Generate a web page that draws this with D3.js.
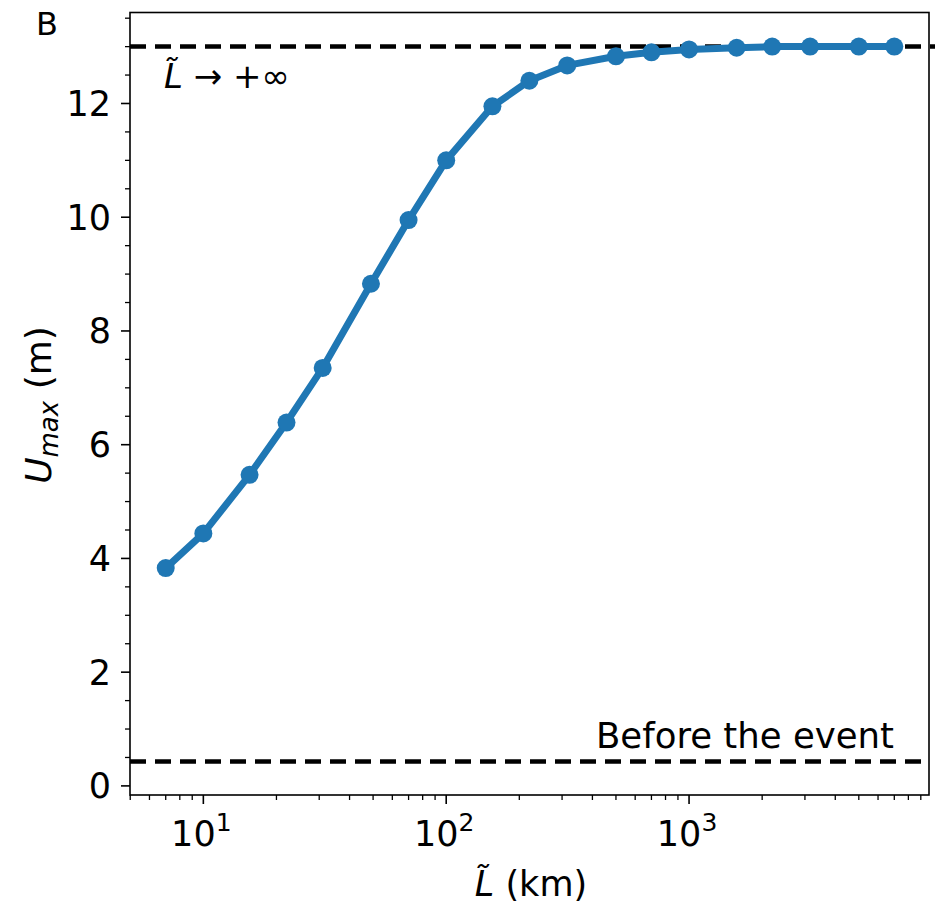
<!DOCTYPE html>
<html>
<head>
<meta charset="utf-8">
<script src="https://cdn.jsdelivr.net/npm/d3@7"></script>
<style>
  body { margin: 0; background: #fff; }
  text { font-family: "DejaVu Sans", sans-serif; fill: #000; }
</style>
</head>
<body>
<svg id="chart" width="935" height="907"></svg>
<script>
// length scale L~ (km) and maximum displacement U_max (m)
var lengthKm = [7, 10, 15.5, 22, 31, 49, 70, 100, 155, 220, 315, 500, 700, 1000, 1570, 2200, 3150, 5000, 7000];
var uMax = [3.83, 4.44, 5.47, 6.39, 7.35, 8.83, 9.95, 11.0, 11.95, 12.40, 12.67, 12.83, 12.90, 12.95, 12.98, 13.0, 13.0, 13.0, 13.0];
var infiniteLevel = 13.0;
var beforeLevel = 0.43;
var yTicks = [0, 2, 4, 6, 8, 10, 12];
var xTicks = [10, 100, 1000];
var xTickExp = ["1", "2", "3"];

var svg = d3.select("#chart");
var margin = { top: 12.5, right: 6, bottom: 112, left: 130 };
var width = 935, height = 907;

var x = d3.scaleLog()
	.domain([Math.pow(10, 0.698), Math.pow(10, 3.988)])
	.range([margin.left, width - margin.right]);
var y = d3.scaleLinear()
	.domain([-0.16, 13.6])
	.range([height - margin.bottom, margin.top]);

// minor ticks
var xMinor = [];
[1, 10, 100, 1000].forEach(dec => {
	for (var k = 2; k <= 9; k++) {
		var v = dec * k;
		if (v >= x.domain()[0] && v <= x.domain()[1]) xMinor.push(v);
	}
});
var yMinor = d3.range(0, 13.6, 0.5).filter(v => v % 2 !== 0);

var g = svg.append("g");

g.selectAll(".xminor").data(xMinor).enter().append("line")
	.attr("x1", d => x(d)).attr("x2", d => x(d))
	.attr("y1", y.range()[0]).attr("y2", y.range()[0] + 5)
	.attr("stroke", "#000").attr("stroke-width", 1.3);
g.selectAll(".xmajor").data(xTicks).enter().append("line")
	.attr("x1", d => x(d)).attr("x2", d => x(d))
	.attr("y1", y.range()[0]).attr("y2", y.range()[0] + 9)
	.attr("stroke", "#000").attr("stroke-width", 1.6);
g.selectAll(".yminor").data(yMinor).enter().append("line")
	.attr("x1", margin.left - 5).attr("x2", margin.left)
	.attr("y1", d => y(d)).attr("y2", d => y(d))
	.attr("stroke", "#000").attr("stroke-width", 1.3);
g.selectAll(".ymajor").data(yTicks).enter().append("line")
	.attr("x1", margin.left - 9).attr("x2", margin.left)
	.attr("y1", d => y(d)).attr("y2", d => y(d))
	.attr("stroke", "#000").attr("stroke-width", 1.6);

// tick labels
g.selectAll(".ylab").data(yTicks).enter().append("text")
	.attr("x", margin.left - 19)
	.attr("y", d => y(d) + 12.5)
	.attr("text-anchor", "end")
	.attr("font-size", "35px")
	.text(d => d);

var xl = g.selectAll(".xlab").data(xTicks).enter().append("text")
	.attr("x", d => x(d) - 2)
	.attr("y", 846)
	.attr("text-anchor", "middle")
	.attr("font-size", "35px");
xl.append("tspan").text("10");
xl.append("tspan").attr("dy", -15).attr("font-size", "25px").text((d, i) => xTickExp[i]);

// reference lines
g.append("line")
	.attr("x1", margin.left).attr("x2", width)
	.attr("y1", y(infiniteLevel)).attr("y2", y(infiniteLevel))
	.attr("stroke", "#000").attr("stroke-width", 4.5)
	.attr("stroke-dasharray", "16,9");
g.append("line")
	.attr("x1", margin.left).attr("x2", width - margin.right)
	.attr("y1", y(beforeLevel)).attr("y2", y(beforeLevel))
	.attr("stroke", "#000").attr("stroke-width", 4.5)
	.attr("stroke-dasharray", "16,9");

// data line and markers
var line = d3.line().x((d, i) => x(lengthKm[i])).y(d => y(d));
g.append("path")
	.datum(uMax)
	.attr("d", line)
	.attr("fill", "none")
	.attr("stroke", "#1f77b4")
	.attr("stroke-width", 7)
	.attr("stroke-linejoin", "round");
g.selectAll(".pt").data(uMax).enter().append("circle")
	.attr("cx", (d, i) => x(lengthKm[i]))
	.attr("cy", d => y(d))
	.attr("r", 9)
	.attr("fill", "#1f77b4");

// frame
g.append("rect")
	.attr("x", margin.left).attr("y", margin.top)
	.attr("width", width - margin.right - margin.left)
	.attr("height", height - margin.bottom - margin.top)
	.attr("fill", "none").attr("stroke", "#000").attr("stroke-width", 1.6);

// annotations
var ann = g.append("text")
	.attr("x", 164).attr("y", 88)
	.attr("font-size", "34px");
ann.append("tspan").attr("font-style", "italic").text("L\u0303");
ann.append("tspan").text(" \u2192 +\u221E");

g.append("text")
	.attr("x", 894).attr("y", 748)
	.attr("text-anchor", "end")
	.attr("font-size", "35.5px")
	.text("Before the event");

// axis labels
var xt = g.append("text")
	.attr("x", 531).attr("y", 896)
	.attr("text-anchor", "middle")
	.attr("font-size", "35px");
xt.append("tspan").attr("font-style", "italic").text("L\u0303");
xt.append("tspan").text(" (km)");

var yt = g.append("text")
	.attr("transform", "translate(51,405) rotate(-90)")
	.attr("text-anchor", "middle")
	.attr("font-size", "36px");
yt.append("tspan").attr("font-style", "italic").text("U");
yt.append("tspan").attr("font-style", "italic").attr("font-size", "26px").attr("dy", 7).text("max");
yt.append("tspan").attr("dy", -7).text(" (m)");

g.append("text")
	.attr("x", 36).attr("y", 35)
	.attr("font-family", "Liberation Sans, Arial, sans-serif")
	.attr("font-size", "32px")
	.text("B");
</script>
</body>
</html>
